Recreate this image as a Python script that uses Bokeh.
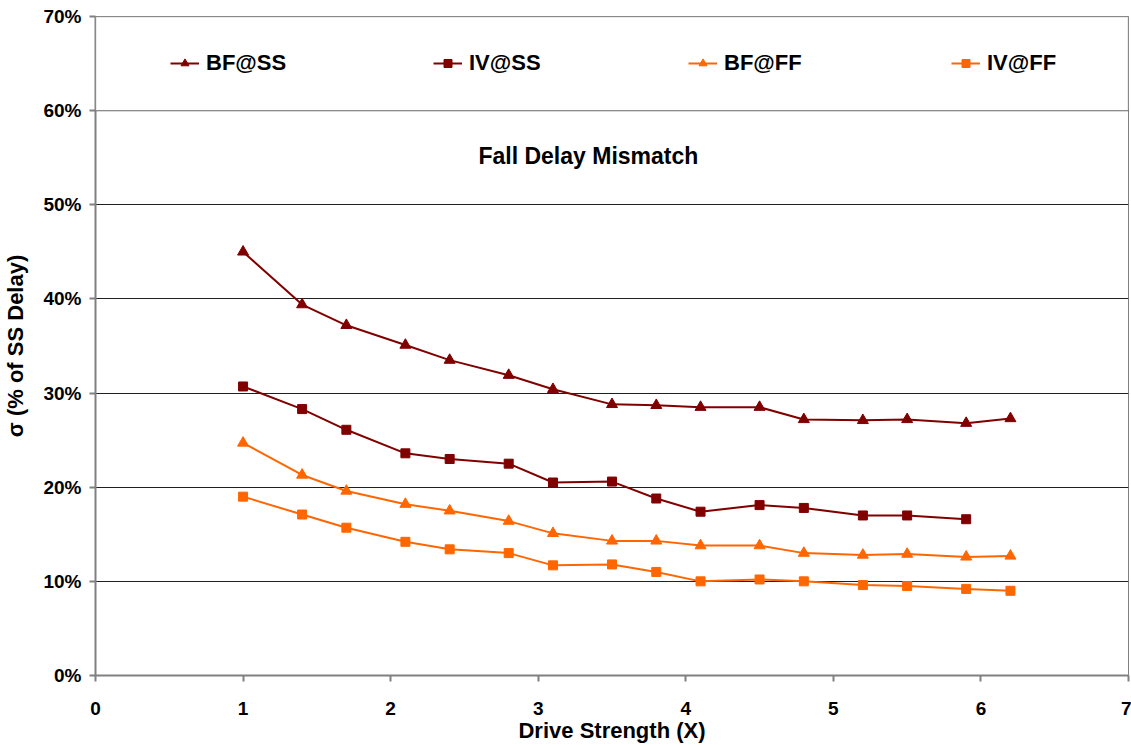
from bokeh.plotting import figure
from bokeh.models import Range1d, FixedTicker, PrintfTickFormatter, Legend, LegendItem, Label, BoxAnnotation
from bokeh.embed import file_html
from bokeh.resources import INLINE

x_all = [1, 1.4, 1.7, 2.1, 2.4, 2.8, 3.1, 3.5, 3.8, 4.1, 4.5, 4.8, 5.2, 5.5, 5.9, 6.2]
bf_ss = [45.0, 39.4, 37.2, 35.1, 33.5, 31.9, 30.4, 28.8, 28.7, 28.5, 28.5, 27.2, 27.1, 27.2, 26.8, 27.3]
iv_ss_x = x_all[:15]
iv_ss = [30.7, 28.3, 26.1, 23.6, 23.0, 22.5, 20.5, 20.6, 18.8, 17.4, 18.1, 17.8, 17.0, 17.0, 16.6]
bf_ff = [24.7, 21.3, 19.6, 18.2, 17.5, 16.4, 15.1, 14.3, 14.3, 13.8, 13.8, 13.0, 12.8, 12.9, 12.6, 12.7]
iv_ff = [19.0, 17.1, 15.7, 14.2, 13.4, 13.0, 11.7, 11.8, 11.0, 10.0, 10.2, 10.0, 9.6, 9.5, 9.2, 9.0]
y_ticks = [0, 10, 20, 30, 40, 50, 60, 70]
x_ticks = [0, 1, 2, 3, 4, 5, 6, 7]

DARK = "#800000"
ORANGE = "#FF6600"
FONT = "Liberation Sans"

p = figure(width=1131, height=745, output_backend="svg", toolbar_location=None,
           x_range=Range1d(0, 7), y_range=Range1d(0, 70),
           min_border_left=95, min_border_right=3, min_border_top=16, min_border_bottom=70)

p.outline_line_color = "#808080"
p.outline_line_width = 1

p.xaxis.ticker = FixedTicker(ticks=x_ticks)
p.yaxis.ticker = FixedTicker(ticks=y_ticks)
p.yaxis.formatter = PrintfTickFormatter(format="%d%%")
for ax in (p.xaxis, p.yaxis):
    ax.axis_line_color = "#808080"
    ax.axis_line_width = 2
    ax.major_tick_line_color = "#808080"
    ax.major_tick_line_width = 2
    ax.major_tick_in = 0
    ax.major_tick_out = 6
    ax.minor_tick_line_color = None
    ax.major_label_text_font = FONT
    ax.major_label_text_font_style = "bold"
    ax.major_label_text_font_size = "19px"
    ax.major_label_text_color = "black"
    ax.axis_label_text_font = FONT
    ax.axis_label_text_font_style = "bold"
    ax.axis_label_text_font_size = "22px"
    ax.axis_label_text_color = "black"

p.xaxis.major_label_standoff = 20
p.xaxis.axis_label = "Drive Strength (X)"
p.xaxis.axis_label_standoff = 0
p.yaxis.major_label_standoff = 8
p.yaxis.axis_label = "σ (% of SS Delay)"
p.yaxis.axis_label_standoff = 12

p.xgrid.grid_line_color = None
p.ygrid.grid_line_color = "#202020"
p.ygrid.grid_line_width = 1

# legend box band
p.add_layout(BoxAnnotation(left=0, right=7, bottom=60, top=70,
                           fill_color="white", fill_alpha=1.0,
                           line_color="black", line_width=1.5))

series = [
    ("BF@SS", x_all, bf_ss, DARK, "triangle", 11),
    ("IV@SS", iv_ss_x, iv_ss, DARK, "square", 9),
    ("BF@FF", x_all, bf_ff, ORANGE, "triangle", 11),
    ("IV@FF", x_all, iv_ff, ORANGE, "square", 9),
]
leg_x = [75, 338, 593, 856]
for (name, xs, ys, col, mk, sz), lx in zip(series, leg_x):
    r1 = p.line(xs, ys, line_color=col, line_width=2)
    r2 = p.scatter(xs, ys, marker=mk, size=sz, fill_color=col, line_color=col)
    leg = Legend(items=[LegendItem(label=name, renderers=[r1, r2])],
                 location=(lx, 599), orientation="horizontal",
                 border_line_color=None, background_fill_alpha=0,
                 padding=0, margin=0, glyph_width=29, glyph_height=20,
                 label_standoff=7, label_text_font=FONT,
                 label_text_font_style="bold", label_text_font_size="22px",
                 label_text_color="black", label_height=20)
    p.add_layout(leg)

p.add_layout(Label(x=3.34, y=55.2, text="Fall Delay Mismatch", text_align="center",
                   text_baseline="middle", text_font=FONT, text_font_style="bold",
                   text_font_size="23px", text_color="black"))

open("out.html", "w").write(file_html(p, INLINE))
